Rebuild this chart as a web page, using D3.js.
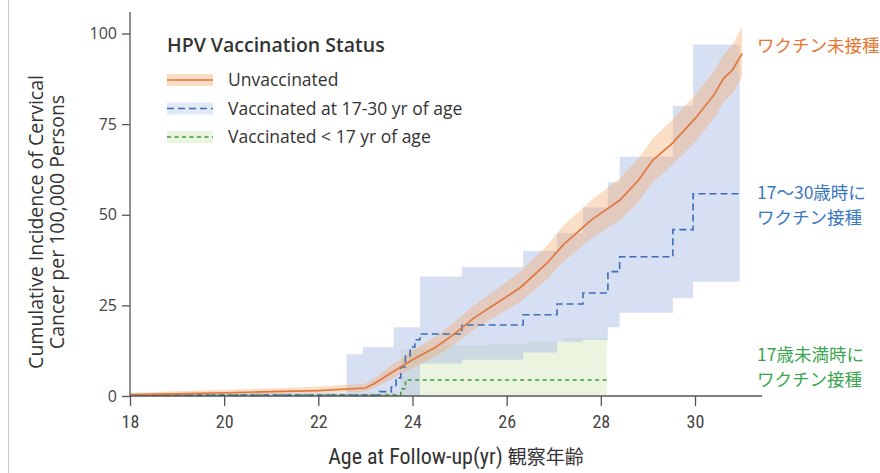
<!DOCTYPE html>
<html>
<head>
<meta charset="utf-8">
<script src="https://cdn.jsdelivr.net/npm/d3@7"></script>
<style>
  html, body { margin: 0; padding: 0; background: #fff; }
  svg { display: block; font-family: "Open Sans", "Noto Sans", sans-serif; }
  .narrow { font-family: "Liberation Sans Narrow", "Roboto Condensed", "Noto Sans", sans-serif; }
</style>
</head>
<body>
<div id="chart"></div>
<script>
// ages on the x axis, incidence per 100,000 on the y axis
const ageTicks = [18, 20, 22, 24, 26, 28, 30];
const incidenceTicks = [0, 25, 50, 75, 100];

// unvaccinated: smooth curve with confidence band
const unvaxAge  = [18, 19, 20, 21, 22, 23, 23.2, 23.5, 24, 24.5, 24.9, 25.3, 25.8, 26.3, 26.86, 27.2, 27.8, 28.4, 28.8, 29.1, 29.5, 30, 30.4, 30.6, 30.8, 31];
const unvaxRate = [0.3, 0.6, 0.9, 1.2, 1.5, 2.2, 3.5, 6, 10, 13.5, 17.2, 21.5, 25.7, 30, 36.7, 41.7, 48.6, 54, 59.5, 65, 69.5, 76.5, 83, 87.5, 90, 94.5];
const unvaxHigh = [0.8, 1.3, 1.7, 2.1, 2.6, 3.4, 5, 8, 12.5, 16.5, 20.5, 25, 29.5, 34.5, 41.5, 47, 54, 60, 65.5, 71, 76, 83, 89.5, 94, 97, 102];
const unvaxLow  = [0, 0.2, 0.4, 0.6, 0.8, 1.2, 2.3, 4.3, 7.8, 11, 14.3, 18.3, 22.2, 26, 32.3, 37, 43.5, 48.5, 53.5, 59, 63.5, 70, 76.5, 81, 83.5, 88];

// vaccinated at 17-30: step curve
const vax1730Age  = [18, 23.3, 23.55, 23.65, 23.75, 23.85, 23.95, 24.05, 24.16, 25.05, 26.35, 27.07, 27.62, 28.15, 28.4, 29.53, 29.96, 30.95];
const vax1730Rate = [0.2, 1.2, 2.5, 5, 8, 11, 13.5, 15.5, 17.1, 19.6, 22.4, 25.4, 28.4, 34.3, 38.4, 45.9, 55.8, 55.8];
const vax1730BandAge = [18, 22.6, 22.95, 23.6, 24.16, 25.05, 26.35, 27.07, 27.62, 28.15, 28.4, 29.53, 29.96, 30.95];
const vax1730Low  = [0, 0, 0, 0, 9, 10, 12, 15, 15.5, 19, 23, 27, 31.5, 31.5];
const vax1730High = [0.8, 11.5, 13.5, 19, 33, 35.6, 40, 45, 52, 59, 66, 80, 97, 97];

// vaccinated under 17: step curve
const vaxU17Age  = [18, 23.75, 23.85, 28.13];
const vaxU17Rate = [0.3, 2, 4.4, 4.4];
const vaxU17BandAge = [18, 23.75, 24.6, 25.6, 26.5, 27.2, 28.13];
const vaxU17Low  = [0, 0.3, 0.3, 0.3, 0.3, 0.3, 0.3];
const vaxU17High = [1, 13, 14, 14.5, 15, 16, 16];

const legendLabels = ["Unvaccinated", "Vaccinated at 17-30 yr of age", "Vaccinated < 17 yr of age"];
const sideLabels = [["ワクチン未接種"], ["17～30歳時に", "ワクチン接種"], ["17歳未満時に", "ワクチン接種"]];
const sideLabelAt = [96.5, 52.5, 7.9];

const colors = {
  orange: "#e2773e", orangeBand: "#f5a86a",
  blue: "#3e6db5", blueBand: "#a9bce6",
  green: "#3f9a3c", greenBand: "#b8dc95",
  axis: "#555", text: "#444"
};

const width = 880, height = 473;
const svg = d3.select("#chart").append("svg")
  .attr("width", width).attr("height", height);

// faint page edge from the scan
svg.append("line").attr("x1", 8.5).attr("x2", 8.5).attr("y1", 0).attr("y2", height)
  .attr("stroke", "#c8c8c8").attr("stroke-width", 1);

const x = d3.scaleLinear().domain([18, 30]).range([130, 695]);
const y = d3.scaleLinear().domain([0, 100]).range([396, 33.5]);

const zip = (xs, ...cols) => xs.map((v, i) => [v, ...cols.map((c) => c[i])]);

const stepArea = d3.area().curve(d3.curveStepAfter)
  .x((d) => x(d[0])).y0((d) => y(d[1])).y1((d) => y(d[2]));
const smoothArea = d3.area()
  .x((d) => x(d[0])).y0((d) => y(d[1])).y1((d) => y(d[2]));

//bands
svg.append("path").datum(zip(vaxU17BandAge, vaxU17Low, vaxU17High))
  .attr("d", stepArea).attr("fill", colors.greenBand).attr("fill-opacity", 0.3);
svg.append("path").datum(zip(vax1730BandAge, vax1730Low, vax1730High))
  .attr("d", stepArea).attr("fill", colors.blueBand).attr("fill-opacity", 0.47);
svg.append("path").datum(zip(unvaxAge, unvaxLow, unvaxHigh))
  .attr("d", smoothArea).attr("fill", colors.orangeBand).attr("fill-opacity", 0.38);

//lines
const stepLine = d3.line().curve(d3.curveStepAfter).x((d) => x(d[0])).y((d) => y(d[1]));
const smoothLine = d3.line().x((d) => x(d[0])).y((d) => y(d[1]));

svg.append("path").datum(zip(vaxU17Age, vaxU17Rate)).attr("d", stepLine)
  .attr("fill", "none").attr("stroke", colors.green).attr("stroke-width", 1.5)
  .attr("stroke-dasharray", "4,3.5");
svg.append("path").datum(zip(vax1730Age, vax1730Rate)).attr("d", stepLine)
  .attr("fill", "none").attr("stroke", colors.blue).attr("stroke-width", 1.6)
  .attr("stroke-dasharray", "7,4");
svg.append("path").datum(zip(unvaxAge, unvaxRate)).attr("d", smoothLine)
  .attr("fill", "none").attr("stroke", colors.orange).attr("stroke-width", 1.7);

//axes
const xAxis = svg.append("g").attr("transform", `translate(0,${y(0)})`)
  .call(d3.axisBottom(x).tickValues(ageTicks).tickSize(10).tickPadding(9).tickFormat(d3.format("d")));
xAxis.select(".domain").remove();
xAxis.append("line").attr("x1", x(18)).attr("x2", 762).attr("stroke", colors.axis).attr("stroke-width", 1.3);
xAxis.selectAll(".tick line").attr("stroke", colors.axis).attr("stroke-width", 1.3);
xAxis.selectAll(".tick text").attr("class", "narrow").attr("font-size", 18).attr("fill", colors.text);

const yAxis = svg.append("g").attr("transform", `translate(${x(18)},0)`)
  .call(d3.axisLeft(y).tickValues(incidenceTicks).tickSize(8).tickPadding(5));
yAxis.select(".domain").remove();
yAxis.append("line").attr("y1", y(0)).attr("y2", 12).attr("stroke", colors.axis).attr("stroke-width", 1.3);
yAxis.selectAll(".tick line").attr("stroke", colors.axis).attr("stroke-width", 1.3);
yAxis.selectAll(".tick text").attr("font-size", 16).attr("fill", colors.text).attr("font-family", "Open Sans, sans-serif");

//axis titles
svg.append("text").attr("class", "narrow")
  .attr("x", 456).attr("y", 464).attr("text-anchor", "middle")
  .attr("font-size", 22).attr("fill", "#333")
  .text("Age at Follow-up(yr) ")
  .append("tspan").attr("font-family", "Noto Sans CJK JP").attr("font-size", 19).text("観察年齢");

const yTitle = svg.append("text").attr("transform", "translate(0,222) rotate(-90)")
  .attr("text-anchor", "middle").attr("font-size", 19.5).attr("fill", "#333");
yTitle.append("tspan").attr("x", 0).attr("y", 43).text("Cumulative Incidence of Cervical");
yTitle.append("tspan").attr("x", 0).attr("y", 64).text("Cancer per 100,000 Persons");

//legend
const legend = svg.append("g").attr("transform", "translate(167,0)");
legend.append("text").attr("x", 0).attr("y", 52).attr("font-size", 19.5)
  .attr("font-weight", 600).attr("fill", "#333").text("HPV Vaccination Status");

const legendStyle = [
  { stroke: colors.orange, dash: null, band: colors.orangeBand, op: 0.4 },
  { stroke: colors.blue, dash: "7,4", band: colors.blueBand, op: 0.35 },
  { stroke: colors.green, dash: "4,3.5", band: colors.greenBand, op: 0.3 }
];
legendLabels.forEach((label, i) => {
  const cy = 80 + i * 28.5;
  const s = legendStyle[i];
  legend.append("rect").attr("x", 0).attr("y", cy - 6).attr("width", 46).attr("height", 12)
    .attr("fill", s.band).attr("fill-opacity", s.op);
  legend.append("line").attr("x1", 0).attr("x2", 46).attr("y1", cy).attr("y2", cy)
    .attr("stroke", s.stroke).attr("stroke-width", 1.6).attr("stroke-dasharray", s.dash);
  legend.append("text").attr("x", 61).attr("y", cy).attr("dy", "0.35em")
    .attr("font-size", 17.5).attr("fill", "#333").text(label);
});

//labels on the right
const sideColors = ["#e6762f", "#3a78c2", "#3ca552"];
sideLabels.forEach((lines, i) => {
  const t = svg.append("text").attr("font-family", "Noto Sans CJK JP")
    .attr("font-size", 17.5).attr("fill", sideColors[i]);
  const top = y(sideLabelAt[i]) - (lines.length - 1) * 12.5;
  lines.forEach((ln, j) => {
    t.append("tspan").attr("x", 757).attr("y", top + j * 25).attr("dy", "0.35em").text(ln);
  });
});
</script>
</body>
</html>
